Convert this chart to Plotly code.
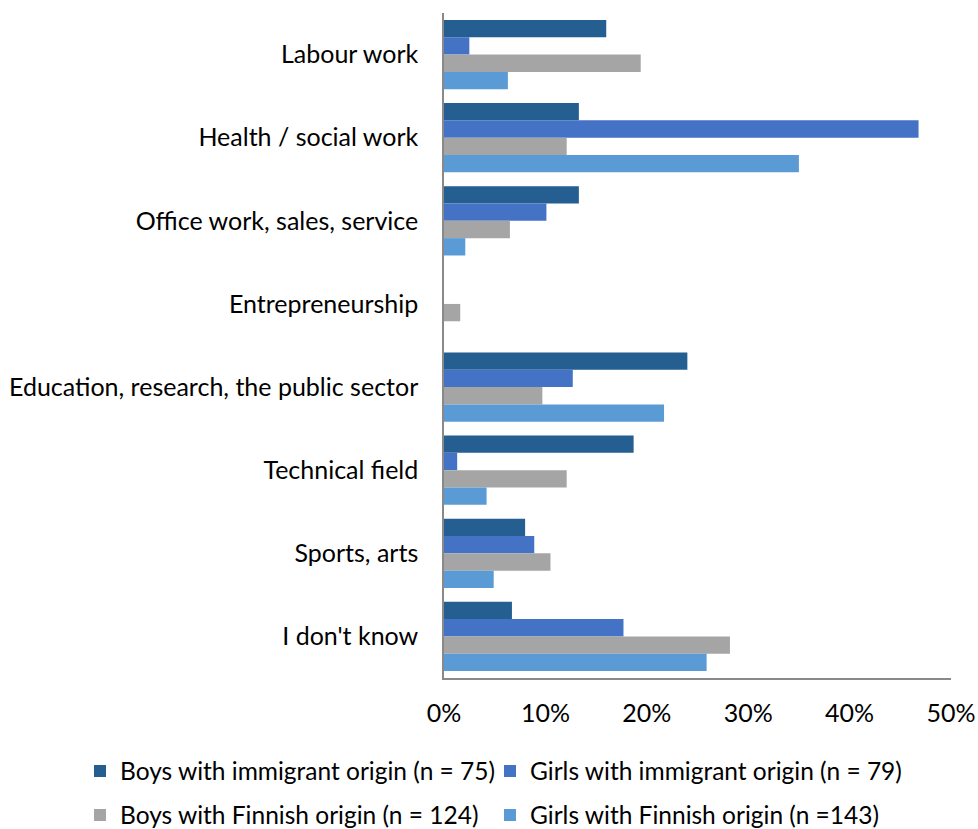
import plotly.graph_objects as go

categories = [
    "Labour work",
    "Health / social work",
    "Office work, sales, service",
    "Entrepreneurship",
    "Education, research, the public sector",
    "Technical field",
    "Sports, arts",
    "I don't know",
]

series_names = [
    "Boys with immigrant origin (n = 75)",
    "Girls with immigrant origin (n = 79)",
    "Boys with Finnish origin (n = 124)",
    "Girls with Finnish origin (n =143)",
]

boys_immigrant = [16.0, 13.3, 13.3, 0.0, 24.0, 18.7, 8.0, 6.7]
girls_immigrant = [2.5, 46.8, 10.1, 0.0, 12.7, 1.3, 8.9, 17.7]
boys_finnish = [19.4, 12.1, 6.5, 1.6, 9.7, 12.1, 10.5, 28.2]
girls_finnish = [6.3, 35.0, 2.1, 0.0, 21.7, 4.2, 4.9, 25.9]

x_ticks = [0, 10, 20, 30, 40, 50]
x_tick_labels = ["0%", "10%", "20%", "30%", "40%", "50%"]

colors = ["#255E91", "#4472C4", "#A5A5A5", "#5B9BD5"]

font_family = "Lato, 'Open Sans', sans-serif"

# one legend box per series, laid out as a 2 x 2 grid under the axis
legend_ids = ["legend", "legend2", "legend3", "legend4"]
legend_x = [80 / 978, 490 / 978, 80 / 978, 490 / 978]
legend_y = [1 - 771 / 829, 1 - 771 / 829, 1 - 815 / 829, 1 - 815 / 829]

fig = go.Figure()
for name, values, color, leg in zip(
    series_names,
    [boys_immigrant, girls_immigrant, boys_finnish, girls_finnish],
    colors,
    legend_ids,
):
    fig.add_trace(
        go.Bar(
            name=name,
            y=categories,
            x=values,
            orientation="h",
            marker=dict(color=color, line=dict(width=0)),
            legend=leg,
            hoverinfo="x+y+name",
        )
    )

legend_layout = {}
for leg, lx, ly in zip(legend_ids, legend_x, legend_y):
    legend_layout[leg] = dict(
        orientation="h",
        xref="container",
        yref="container",
        xanchor="left",
        yanchor="middle",
        x=lx,
        y=ly,
        font=dict(family=font_family, size=24.5, color="#000000"),
        bgcolor="rgba(0,0,0,0)",
        itemclick=False,
        itemdoubleclick=False,
    )

fig.update_layout(
    width=978,
    height=829,
    margin=dict(l=444, r=27, t=13, b=151, autoexpand=False),
    paper_bgcolor="white",
    plot_bgcolor="white",
    barmode="group",
    bargap=0.166,
    bargroupgap=0,
    font=dict(family=font_family, size=25, color="#000000"),
    xaxis=dict(
        range=[0, 50],
        tickvals=x_ticks,
        ticktext=x_tick_labels,
        showgrid=False,
        zeroline=False,
        showline=True,
        linecolor="#898989",
        linewidth=1.5,
        ticks="",
        ticklabelstandoff=12,
        automargin=False,
        tickfont=dict(family=font_family, size=25, color="#000000"),
        fixedrange=True,
    ),
    yaxis=dict(
        autorange="reversed",
        showgrid=False,
        zeroline=False,
        showline=True,
        linecolor="#898989",
        linewidth=1.5,
        ticks="",
        ticklabelstandoff=19,
        automargin=False,
        tickfont=dict(family=font_family, size=25, color="#000000"),
        fixedrange=True,
    ),
    showlegend=True,
    **legend_layout,
)

fig.write_html("out.html")
